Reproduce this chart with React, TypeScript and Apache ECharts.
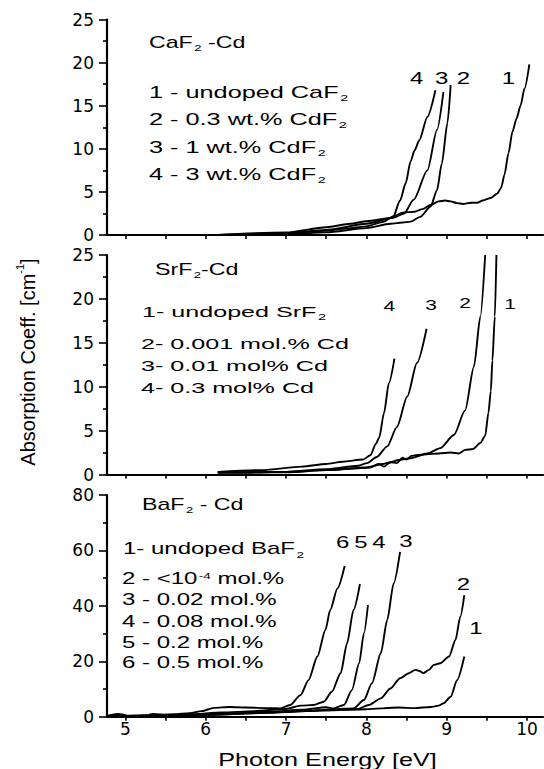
import React, { useEffect, useRef } from 'react';
import * as echarts from 'echarts';

// ---------- axes ----------
const X_MIN = 4.77;
const X_MAX = 10.2;
const xTickValues = [5, 5.5, 6, 6.5, 7, 7.5, 8, 8.5, 9, 9.5, 10];
const xLabelValues = [5, 6, 7, 8, 9, 10];
const yMaxes = [25, 25, 80];
const yIntervals = [5, 5, 20];

// ---------- panel 1: CaF2-Cd ----------
const caf2Undoped = [[6.15,0],[6.5,0.05],[7,0.2],[7.5,0.5],[7.8,0.8],[8.0,1.0],[8.2,1.5],[8.35,2.2],[8.45,2.6],[8.6,2.7],[8.7,3.0],[8.8,3.5],[8.9,3.9],[8.98,4.0],[9.05,3.9],[9.13,3.7],[9.2,3.6],[9.3,3.75],[9.38,3.75],[9.45,4.0],[9.55,4.3],[9.63,4.8],[9.68,5.5],[9.72,7],[9.77,9.5],[9.82,12],[9.87,13.5],[9.92,15],[9.97,17],[10.03,19.8]];
const caf2Cd03 = [[6.2,0],[7,0.05],[7.5,0.3],[8.0,0.8],[8.3,1.3],[8.45,1.45],[8.55,1.55],[8.67,2.1],[8.8,3.3],[8.88,5.2],[8.94,8.3],[9.01,13],[9.05,17.4]];
const caf2Cd1 = [[6.2,0],[7.0,0.2],[7.5,0.6],[8.0,1.3],[8.33,2.0],[8.47,2.5],[8.59,4.1],[8.76,7.5],[8.88,12.2],[8.96,16.6]];
const caf2Cd3 = [[6.15,0],[7.0,0.3],[7.5,0.9],[7.8,1.3],[8.0,1.6],[8.33,2.0],[8.42,4],[8.49,6.0],[8.55,8.5],[8.6,9.8],[8.66,11],[8.76,13.7],[8.86,16.8]];

// ---------- panel 2: SrF2-Cd ----------
const srf2Undoped = [[6.15,0.25],[6.5,0.2],[7.0,0.3],[7.5,0.5],[7.9,0.7],[8.05,0.8],[8.15,1.2],[8.22,0.9],[8.3,1.4],[8.38,1.3],[8.45,1.9],[8.5,1.7],[8.56,2.1],[8.62,2.2],[8.75,2.3],[8.9,2.4],[9.05,2.5],[9.15,2.4],[9.23,2.8],[9.33,2.9],[9.42,3.6],[9.48,4.4],[9.52,7],[9.55,9.5],[9.57,13],[9.6,18],[9.62,25]];
const srf2Cd0001 = [[6.15,0.25],[7.0,0.25],[7.5,0.5],[8.0,0.8],[8.2,1.2],[8.3,1.4],[8.4,1.65],[8.55,1.85],[8.76,2.4],[8.92,3.0],[9.09,4.5],[9.23,7.3],[9.34,12.3],[9.42,18],[9.48,25]];
const srf2Cd001 = [[6.15,0.2],[7,0.3],[7.5,0.6],[7.9,1.0],[8.01,1.3],[8.13,2.0],[8.26,3.2],[8.38,5.4],[8.51,8.9],[8.63,12.7],[8.75,16.6]];
const srf2Cd03 = [[6.15,0.3],[6.7,0.5],[7.2,0.9],[7.5,1.2],[7.7,1.45],[7.96,1.7],[8.05,2.2],[8.12,3.5],[8.16,4.2],[8.22,7.0],[8.28,10.4],[8.35,13.2]];

// ---------- panel 3: BaF2-Cd ----------
const baf2Undoped = [[4.78,0.3],[4.92,1.0],[5.02,0.4],[5.5,0.5],[6.0,0.9],[6.5,1.3],[7.0,1.8],[7.5,2.3],[8.0,2.7],[8.4,3.3],[8.6,3.1],[8.8,3.5],[8.9,4.0],[8.96,4.8],[9.05,7.2],[9.13,13.2],[9.22,21.7]];
const baf2Cd1e4 = [[5.3,0.8],[5.35,1.0],[5.5,0.6],[6.0,0.8],[6.5,1.2],[7.0,1.7],[7.5,2.3],[7.89,2.8],[8.03,4.2],[8.18,6.6],[8.30,10.2],[8.42,13.9],[8.53,15.7],[8.61,16.9],[8.66,16.5],[8.71,15.7],[8.78,16.9],[8.84,18.7],[8.92,19.3],[9.03,21.7],[9.11,27.7],[9.17,36.1],[9.22,43.9]];
const baf2Cd002 = [[4.78,0.1],[5.3,0.2],[5.8,0.5],[6.3,0.9],[6.8,1.5],[7.3,2.2],[7.6,2.7],[7.84,3.0],[7.97,6.0],[8.07,12.1],[8.18,22.9],[8.26,34.9],[8.34,48.1],[8.42,59.5]];
const baf2Cd008 = [[4.78,0.2],[5.3,0.3],[5.8,0.6],[6.3,1.0],[6.8,1.8],[7.2,2.5],[7.5,3.4],[7.59,3.0],[7.72,4.2],[7.82,9.6],[7.91,19.3],[7.97,30.1],[8.02,40.3]];
const baf2Cd02 = [[4.78,0.2],[5.3,0.3],[5.8,0.8],[6.2,1.5],[6.6,2.0],[7.0,2.8],[7.18,4.0],[7.34,4.2],[7.47,5.4],[7.57,9.0],[7.68,15.7],[7.76,26.5],[7.84,38.5],[7.92,47.9]];
const baf2Cd05 = [[4.78,0.3],[4.9,0.8],[5.0,0.3],[5.3,0.5],[5.6,0.9],[5.8,1.3],[5.95,2.0],[6.1,3.2],[6.3,3.5],[6.5,3.3],[6.8,3.1],[6.93,3.0],[7.05,4.2],[7.18,7.8],[7.28,13.2],[7.39,21.7],[7.49,31.3],[7.55,38.5],[7.64,46.3],[7.73,54.4]];

const panelSeries = [
  [caf2Undoped, caf2Cd03, caf2Cd1, caf2Cd3],
  [srf2Undoped, srf2Cd0001, srf2Cd001, srf2Cd03],
  [baf2Undoped, baf2Cd1e4, baf2Cd002, baf2Cd008, baf2Cd02, baf2Cd05],
];

const TF = '"Liberation Sans", Arial, sans-serif';

function richStyles(fs: number) {
  return {
    m: { fontSize: fs, lineHeight: 18, verticalAlign: 'top', fontFamily: TF, fill: '#000' },
    s: { fontSize: 9, lineHeight: 9, verticalAlign: 'bottom', padding: [17, 0, 0, 1], fontFamily: TF, fill: '#000' },
    p: { fontSize: 9, lineHeight: 9, verticalAlign: 'top', padding: [0, 0, 0, 1], fontFamily: TF, fill: '#000' },
  };
}

function txt(text: string, x: number, cy: number, fs: number, sx: number, align = 'left') {
  return {
    type: 'text', x, y: cy - 9, scaleX: sx, silent: true,
    style: { text, align, verticalAlign: 'top', rich: richStyles(fs), fontFamily: TF, fontSize: fs, fill: '#000' },
  };
}

function num(text: string, cx: number, cy: number, fs: number, sx: number) {
  return {
    type: 'text', x: cx, y: cy, scaleX: sx, silent: true,
    style: { text, align: 'center', verticalAlign: 'middle', fontFamily: TF, fontSize: fs, fill: '#000' },
  };
}

export default function App() {
  const ref = useRef<HTMLDivElement>(null);
  useEffect(() => {
    if (!ref.current) return;
    const chart = echarts.init(ref.current, null, { renderer: 'svg' });
    const grids = [
      { left: 107, top: 19.5, width: 436, height: 215.5 },
      { left: 107, top: 255, width: 436, height: 219.5 },
      { left: 107, top: 495, width: 436, height: 221.7 },
    ];
    const axisLine = { show: true, onZero: false, lineStyle: { color: '#000', width: 2.2 } };
    const xAxis = grids.map((_, i) => ({
      type: 'value', gridIndex: i, min: X_MIN, max: X_MAX,
      axisLine,
      axisTick: { show: true, customValues: xTickValues, length: 4, lineStyle: { color: '#000', width: 1.6 } },
      axisLabel: {
        show: i === 2, customValues: xLabelValues, color: '#000', fontSize: 17,
        fontFamily: 'DejaVu Sans', margin: 4,
      },
      splitLine: { show: false },
    }));
    const yAxis = grids.map((_, i) => ({
      type: 'value', gridIndex: i, min: 0, max: yMaxes[i], interval: yIntervals[i],
      axisLine,
      axisTick: { show: true, length: 8, lineStyle: { color: '#000', width: 1.6 } },
      minorTick: { show: true, splitNumber: 2, length: 4, lineStyle: { color: '#000', width: 1.6 } },
      axisLabel: { color: '#000', fontSize: 17, fontFamily: 'DejaVu Sans', margin: 13 },
      splitLine: { show: false },
    }));
    const series: any[] = [];
    panelSeries.forEach((list, i) => {
      list.forEach((data) => {
        series.push({
          type: 'line', xAxisIndex: i, yAxisIndex: i, data, showSymbol: false,
          smooth: 0.25, smoothMonotone: 'x',
          lineStyle: { color: '#000', width: 1.9 }, silent: true,
        });
      });
    });
    const graphic: any[] = [
      // panel 1
      txt('{m|CaF}{s|2}{m| -Cd}', 149, 43.3, 16, 1.45),
      txt('{m|1 - undoped CaF}{s|2}', 149, 93.3, 16, 1.58),
      txt('{m|2 - 0.3 wt.% CdF}{s|2}', 149, 120.7, 16, 1.58),
      txt('{m|3 - 1 wt.% CdF}{s|2}', 149, 148.3, 16, 1.58),
      txt('{m|4 - 3 wt.% CdF}{s|2}', 149, 175.7, 16, 1.58),
      num('4', 416.7, 78.3, 16, 1.5),
      num('3', 441.7, 78.3, 16, 1.5),
      num('2', 463.3, 78.3, 16, 1.5),
      num('1', 508.3, 78.3, 16, 1.5),
      // panel 2
      txt('{m|SrF}{s|2}{m|-Cd}', 155, 270, 16, 1.45),
      txt('{m|1- undoped SrF}{s|2}', 142, 312.5, 15.5, 1.62),
      txt('{m|2- 0.001 mol.% Cd}', 141, 344.5, 15.5, 1.62),
      txt('{m|3- 0.01 mol% Cd}', 141, 366.7, 15.5, 1.62),
      txt('{m|4- 0.3 mol% Cd}', 141, 388, 15.5, 1.62),
      num('4', 389.3, 306, 14, 1.5),
      num('3', 431, 305, 14, 1.5),
      num('2', 465, 303.3, 14, 1.5),
      num('1', 510, 304, 14, 1.5),
      // panel 3
      txt('{m|BaF}{s|2}{m| - Cd}', 142, 505, 16, 1.45),
      txt('{m|1- undoped BaF}{s|2}', 123, 550, 16, 1.5),
      txt('{m|2 - <10}{p|-4}{m| mol.%}', 122, 580, 16, 1.5),
      txt('{m|3 - 0.02 mol.%}', 122, 601, 16, 1.5),
      txt('{m|4 - 0.08 mol.%}', 122, 622.5, 16, 1.5),
      txt('{m|5 - 0.2 mol.%}', 122, 643.3, 16, 1.5),
      txt('{m|6 - 0.5 mol.%}', 122, 663.8, 16, 1.5),
      num('6', 342.7, 542.3, 16, 1.5),
      num('5', 361, 542.3, 16, 1.5),
      num('4', 379, 542.3, 16, 1.5),
      num('3', 406, 541.7, 16, 1.5),
      num('2', 463.3, 585, 16, 1.5),
      num('1', 476, 628.3, 16, 1.5),
      // axis titles
      {
        type: 'text', x: 327.5, y: 760, scaleX: 1.44, silent: true,
        style: { text: 'Photon Energy [eV]', align: 'center', verticalAlign: 'middle', fontFamily: TF, fontSize: 17.5, fill: '#000' },
      },
      {
        type: 'text', x: 26, y: 362, rotation: Math.PI / 2, silent: true,
        style: {
          text: '{t|Absorption Coeff. [cm}{p|-1}{t|]}', align: 'center', verticalAlign: 'middle',
          fontFamily: TF, fontSize: 20, fill: '#000',
          rich: {
            t: { fontSize: 20, lineHeight: 24, padding: [6, 0, 0, 0], verticalAlign: 'bottom', fontFamily: TF, fill: '#000' },
            p: { fontSize: 11, lineHeight: 11, verticalAlign: 'top', fontFamily: TF, fill: '#000' },
          },
        },
      },
    ];
    chart.setOption({
      animation: false,
      backgroundColor: '#fff',
      grid: grids,
      xAxis, yAxis, series, graphic,
    });
    return () => chart.dispose();
  }, []);
  return <div ref={ref} style={{ position: 'fixed', left: 0, top: 0, width: 544, height: 769 }} />;
}
